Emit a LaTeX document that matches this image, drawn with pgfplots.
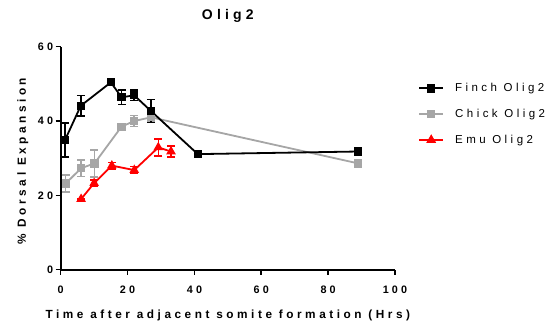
\documentclass[border=0pt]{standalone}
\usepackage{fontspec}
\setmainfont{Liberation Sans}[LetterSpace=30]
\usepackage{pgfplots}
\pgfplotsset{compat=1.18}
\usepackage{pgfplotstable}
\definecolor{chickgray}{RGB}{166,166,166}
\definecolor{emured}{RGB}{255,0,0}
\pgfplotstableread{
x y e
1.3 34.9 4.6
6.0 44.1 2.8
15.0 50.4 0
18.2 46.4 1.9
22.0 46.9 1.4
27.0 42.7 3.1
41.0 31.1 0
89.0 31.8 0
}\finch
\pgfplotstableread{
x y e
1.5 23.2 2.3
6.1 27.3 2.2
10.1 28.6 3.6
18.2 38.5 0.5
22.0 40.0 1.5
27.0 41.0 1.2
89.0 28.6 0
}\chick
\pgfplotstableread{
x y e
6.1 19.0 0
10.0 23.3 0.8
15.3 28.0 0.9
22.0 26.8 0.9
29.2 32.9 2.3
33.0 31.8 1.5
}\emu
\begin{document}
\begin{tikzpicture}
\begin{axis}[
  at={(0pt,0pt)}, anchor=origin,
  scale only axis,
  width=334.3pt, height=223pt,
  xmin=0, xmax=100, ymin=0, ymax=60,
  xtick={0,20,40,60,80,100},
  ytick={0,20,40,60},
  axis x line*=bottom, axis y line*=left,
  axis line style={line width=2pt, -},
  tick align=outside,
  major tick length=5pt,
  tick style={line width=1.6pt, black},
  /pgf/number format/assume math mode=true,
  ticklabel style={font=\bfseries\fontsize{10.8}{12}\selectfont},
  xticklabel style={yshift=-8pt},
  yticklabel style={xshift=1pt},
  title={Olig2},
  title style={font=\bfseries\fontsize{14}{16}\selectfont, at={(axis description cs:0.5,1)}, anchor=base, yshift=21pt},
  xlabel={Time after adjacent somite formation (Hrs)},
  xlabel style={font=\bfseries\fontsize{11.8}{13}\selectfont, at={(axis description cs:0.5,0)}, anchor=base, yshift=-48.5pt},
  ylabel={\% Dorsal Expansion},
  ylabel style={font=\bfseries\fontsize{11.8}{13}\selectfont, at={(axis description cs:-0.104,0.487)}, anchor=base},
  legend style={at={(axis description cs:1.069,0.845)}, anchor=north west, draw=none, fill=none,
    font=\fontsize{11.5}{13}\selectfont, row sep=12pt, inner sep=0pt,
    /tikz/every odd column/.append style={column sep=9pt}},
  legend cell align=left,
  legend image code/.code={\draw[mark repeat=2,mark phase=2] plot coordinates {(0cm,0cm)(0.42cm,0cm)(0.84cm,0cm)};},
  clip=false,
]
\addlegendimage{black, line width=2pt, mark=square*, mark size=3.2pt}
\addlegendentry{Finch Olig2}
\addlegendimage{chickgray, line width=2pt, mark=square*, mark size=3.2pt}
\addlegendentry{Chick Olig2}
\addlegendimage{emured, line width=2pt, mark=triangle*, mark size=3.8pt}
\addlegendentry{Emu Olig2}

\addplot[forget plot, chickgray, line width=1.8pt, mark=square*, mark size=3.2pt,
  error bars/.cd, y dir=both, y explicit,
  error bar style={line width=1.5pt},
  error mark options={line width=1.5pt, mark size=4pt, rotate=90}]
  table[x=x, y=y, y error=e] {\chick};
\addplot[forget plot, emured, line width=1.8pt, mark=triangle*, mark size=3.8pt,
  error bars/.cd, y dir=both, y explicit,
  error bar style={line width=1.5pt},
  error mark options={line width=1.5pt, mark size=4pt, rotate=90}]
  table[x=x, y=y, y error=e] {\emu};
\addplot[forget plot, black, line width=1.8pt, mark=square*, mark size=3.2pt,
  error bars/.cd, y dir=both, y explicit,
  error bar style={line width=1.5pt},
  error mark options={line width=1.5pt, mark size=4pt, rotate=90}]
  table[x=x, y=y, y error=e] {\finch};
\end{axis}
\path[use as bounding box] (-60.7pt,-61.3pt) rectangle (488.3pt,269.7pt);
\end{tikzpicture}
\end{document}
